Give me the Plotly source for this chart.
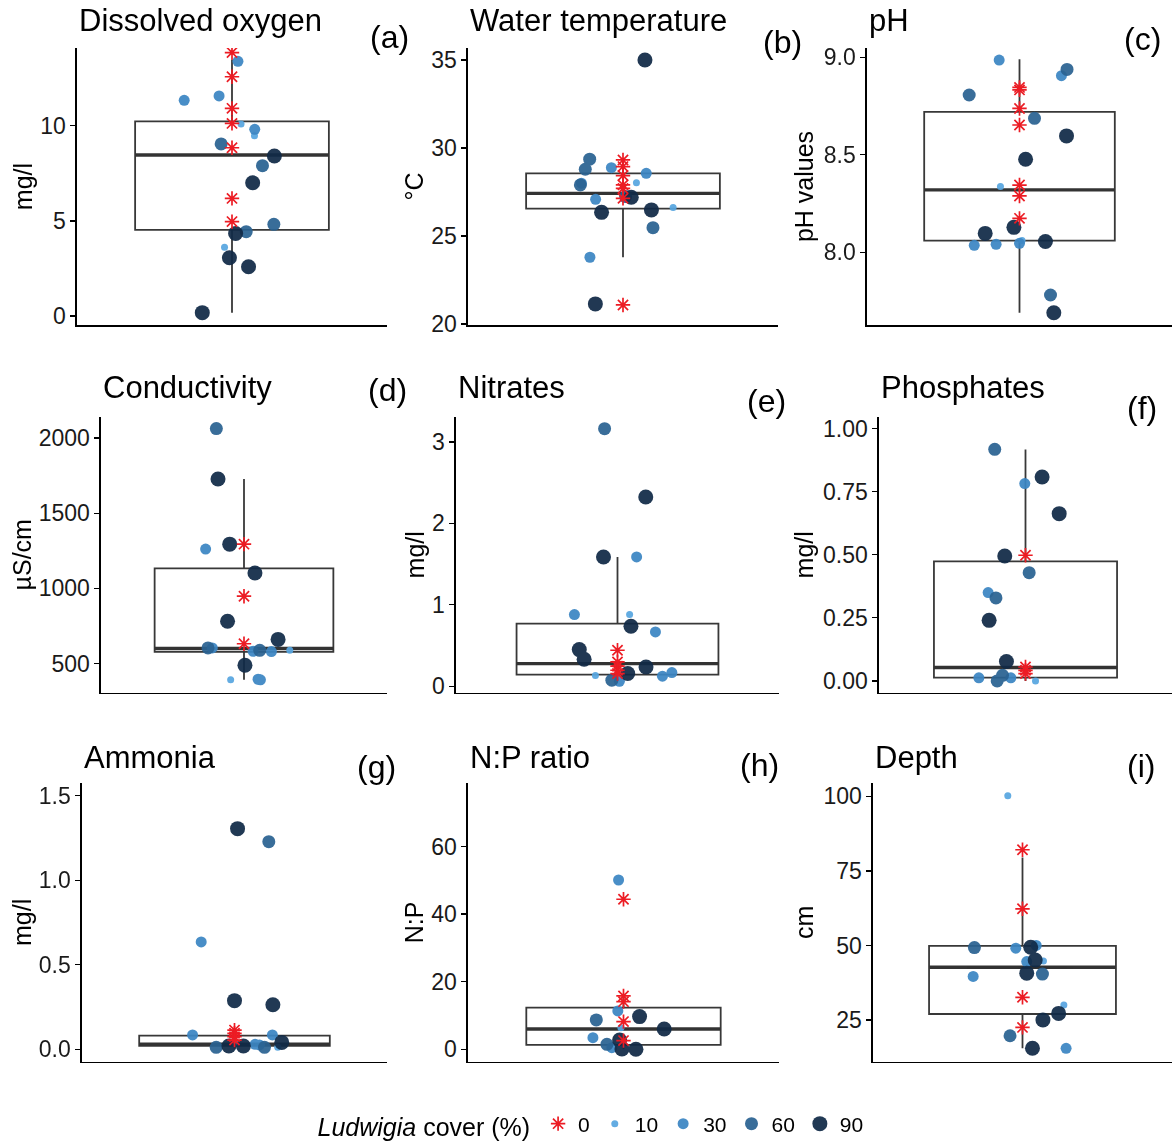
import plotly.graph_objects as go

# ---------------- data ----------------
PANEL_TITLES = ["Dissolved oxygen", "Water temperature", "pH", "Conductivity", "Nitrates",
                "Phosphates", "Ammonia", "N:P ratio", "Depth"]
PANEL_TAGS = ["(a)", "(b)", "(c)", "(d)", "(e)", "(f)", "(g)", "(h)", "(i)"]
Y_TITLES = ["mg/l", "°C", "pH values", "µS/cm", "mg/l", "mg/l", "mg/l", "N:P", "cm"]
COVER_LEVELS = [0, 10, 30, 60, 90]

# box statistics: q1, median, q3, lower whisker, upper whisker
do_box = [4.53, 8.46, 10.23, 0.17, 13.47]
temp_box = [26.55, 27.42, 28.56, 23.79, 29.3]
ph_box = [8.06, 8.32, 8.72, 7.69, 8.99]
cond_box = [578, 600, 1133, 392, 1727]
nitr_box = [0.143, 0.278, 0.77, 0.061, 1.588]
phos_box = [0.013, 0.053, 0.474, 0.0, 0.917]
amm_box = [0.02, 0.03, 0.081, 0.005, 0.1]
np_box = [1.28, 6.02, 12.34, 0.0, 15.8]
depth_box = [27.0, 42.7, 49.85, 15.5, 79.5]

# observations: value, Ludwigia cover (%), horizontal jitter
do_value = [13.84, 12.57, 10.91, 10.12, 8.84, 6.18, 4.96,
            13.38, 11.33, 11.56, 10.09, 9.81, 9.47, 9.04, 8.41, 7.90, 7.00, 4.82, 4.34, 4.43, 3.61, 3.06, 2.59, 0.18]
do_cover = [0, 0, 0, 0, 0, 0, 0,
            30, 30, 30, 10, 30, 10, 60, 90, 60, 90, 60, 90, 60, 10, 90, 90, 90]
do_jitter = [0, 0, 0, 0, 0, 0, 0,
             0.023, -0.185, -0.05, 0.035, 0.088, 0.087, -0.042, 0.164, 0.118, 0.080, 0.162, 0.014, 0.055, -0.029, -0.010, 0.064, -0.115]

temp_value = [29.32, 28.94, 28.43, 27.90, 27.70, 27.14, 21.08,
              35.0, 29.36, 28.79, 28.88, 28.56, 28.03, 28.0, 27.9, 27.24, 27.2, 27.08, 26.34, 26.48, 26.61, 25.47, 23.79, 21.14]
temp_cover = [0, 0, 0, 0, 0, 0, 0,
              90, 60, 60, 30, 30, 10, 30, 60, 60, 90, 30, 90, 90, 10, 60, 30, 90]
temp_jitter = [0, 0, 0, 0, 0, 0, 0,
               0.085, -0.129, -0.146, -0.045, 0.090, 0.052, -0.161, -0.165, 0.010, 0.032, -0.106, -0.083, 0.110, 0.194, 0.116, -0.128, -0.107]

ph_value = [8.846, 8.833, 8.738, 8.653, 8.345, 8.289, 8.174,
            8.986, 8.938, 8.906, 8.807, 8.687, 8.597, 8.477, 8.337, 8.097, 8.128, 8.036, 8.041, 8.046, 8.060, 8.055, 7.781, 7.690]
ph_cover = [0, 0, 0, 0, 0, 0, 0,
            30, 60, 30, 60, 60, 90, 90, 10, 90, 90, 30, 30, 30, 10, 90, 60, 90]
ph_jitter = [0, 0, 0, 0, 0, 0, 0,
             -0.080, 0.187, 0.165, -0.198, 0.059, 0.185, 0.024, -0.075, -0.135, -0.022, -0.178, -0.092, 0.000, 0.010, 0.102, 0.122, 0.135]

cond_value = [1294, 948, 632,
              2062, 1727, 1261, 1294, 1102, 782, 661, 604, 604, 582, 588, 580, 588, 489, 392, 396, 392]
cond_cover = [0, 0, 0,
              60, 90, 30, 90, 90, 90, 90, 60, 30, 30, 60, 30, 10, 90, 10, 30, 30]
cond_jitter = [0, 0, 0,
               -0.116, -0.109, -0.161, -0.060, 0.046, -0.069, 0.143, -0.151, -0.133, 0.038, 0.066, 0.115, 0.192, 0.004, -0.056, 0.059, 0.069]

nitr_value = [0.442, 0.299, 0.246, 0.196, 0.156,
              3.164, 2.325, 1.588, 1.588, 0.88, 0.88, 0.737, 0.667, 0.45, 0.332, 0.237, 0.156, 0.131, 0.123, 0.168, 0.074, 0.061]
nitr_cover = [0, 0, 0, 0, 0,
              60, 90, 90, 30, 30, 10, 90, 30, 90, 90, 90, 90, 10, 30, 30, 60, 30]
nitr_jitter = [0, 0, 0, 0, 0,
               -0.048, 0.105, -0.052, 0.071, -0.160, 0.045, 0.050, 0.141, -0.142, -0.124, 0.106, 0.038, -0.082, 0.167, 0.202, -0.021, 0.007]

phos_value = [0.498, 0.055, 0.042, 0.029,
              0.918, 0.808, 0.782, 0.663, 0.495, 0.429, 0.350, 0.329, 0.240, 0.077, 0.022, 0.012, 0.000, 0.012, 0.000]
phos_cover = [0, 0, 0, 0,
              60, 90, 30, 90, 90, 60, 30, 60, 90, 90, 60, 30, 60, 30, 10]
phos_jitter = [0, 0, 0, 0,
               -0.126, 0.068, -0.003, 0.138, -0.085, 0.015, -0.153, -0.121, -0.149, -0.078, -0.094, -0.191, -0.116, -0.060, 0.041]

amm_value = [0.114, 0.095, 0.075, 0.055,
             1.305, 1.228, 0.635, 0.288, 0.264, 0.085, 0.085, 0.012, 0.020, 0.020, 0.030, 0.026, 0.012, 0.012, 0.041, 0.036]
amm_cover = [0, 0, 0, 0,
             90, 60, 30, 90, 90, 30, 30, 60, 90, 90, 30, 30, 60, 10, 90, 10]
amm_jitter = [0, 0, 0, 0,
              0.012, 0.135, -0.131, 0.000, 0.151, -0.165, 0.149, -0.072, -0.022, 0.035, 0.081, 0.098, 0.118, 0.170, 0.186, 0.003]

np_value = [44.4, 15.8, 14.1, 8.19, 2.57,
            50.1, 11.35, 6.41, 8.68, 9.67, 6.02, 3.45, 1.48, 0.49, 2.76, 0.10, 0.00]
np_cover = [0, 0, 0, 0, 0,
            30, 30, 10, 60, 90, 90, 30, 60, 30, 90, 90, 90]
np_jitter = [0, 0, 0, 0, 0,
             -0.019, -0.022, -0.010, -0.105, 0.062, 0.157, -0.118, -0.064, -0.045, -0.015, -0.006, 0.048]

depth_value = [82.1, 62.3, 32.6, 22.5,
               100.2, 49.3, 49.1, 49.4, 50.0, 44.6, 44.8, 45.1, 40.7, 40.4, 39.6, 30.0, 27.2, 25.0, 19.7, 15.5, 15.5]
depth_cover = [0, 0, 0, 0,
               10, 60, 30, 90, 30, 30, 10, 90, 90, 60, 30, 10, 90, 90, 60, 90, 30]
depth_jitter = [0, 0, 0, 0,
                -0.059, -0.193, -0.027, 0.033, 0.055, 0.017, 0.084, 0.051, 0.017, 0.080, -0.198, 0.166, 0.145, 0.082, -0.050, 0.040, 0.175]

Y_TICKS = [[0, 5, 10], [20, 25, 30, 35], [8.0, 8.5, 9.0], [500, 1000, 1500, 2000], [0, 1, 2, 3],
           [0, 0.25, 0.5, 0.75, 1.0], [0, 0.5, 1.0, 1.5], [0, 20, 40, 60], [25, 50, 75, 100]]
Y_TICKTEXT = [["0", "5", "10"], ["20", "25", "30", "35"], ["8.0", "8.5", "9.0"],
              ["500", "1000", "1500", "2000"], ["0", "1", "2", "3"],
              ["0.00", "0.25", "0.50", "0.75", "1.00"], ["0.0", "0.5", "1.0", "1.5"],
              ["0", "20", "40", "60"], ["25", "50", "75", "100"]]

panels = [
    (do_box, do_value, do_cover, do_jitter),
    (temp_box, temp_value, temp_cover, temp_jitter),
    (ph_box, ph_value, ph_cover, ph_jitter),
    (cond_box, cond_value, cond_cover, cond_jitter),
    (nitr_box, nitr_value, nitr_cover, nitr_jitter),
    (phos_box, phos_value, phos_cover, phos_jitter),
    (amm_box, amm_value, amm_cover, amm_jitter),
    (np_box, np_value, np_cover, np_jitter),
    (depth_box, depth_value, depth_cover, depth_jitter),
]

# ---------------- layout / style ----------------
W, H = 1173, 1142
FONT = "Liberation Sans, Arial, sans-serif"


def px_x(p):
    return p / W


def px_y(p):
    return 1 - p / H


# panel pixel geometry (left, right, top, bottom)
PANEL_PX = [(77, 387, 48, 325), (468, 778, 48, 325), (867, 1172, 48, 325),
            (101, 387, 417, 692.5), (456, 779, 417, 692.5), (879, 1172, 417, 692.5),
            (82, 387, 783, 1061.7), (468, 779, 783, 1061.7), (873, 1172, 783, 1061.7)]
Y_RANGES = [(-0.47, 14.08), (19.94, 35.68), (7.627, 9.048), (308, 2139), (-0.077, 3.307),
            (-0.046, 1.046), (-0.073, 1.575), (-3.67, 78.8), (11.0, 104.5)]
TITLE_Y = [20, 20, 20, 388, 388, 388, 757, 757, 757]
TITLE_STANDOFF = [0, 0, 3, 0, 0, 2, 0, 0, 2]
TAG_POS = [(411, 37), (804, 42), (1163, 39), (409, 390), (788, 401), (1159, 408),
           (398, 767), (781, 765), (1157, 766)]

STYLE = {
    0: dict(color="#EC1C24", size=12, symbol="asterisk"),
    10: dict(color="#58A6E0", size=7, symbol="circle"),
    30: dict(color="#3C86C3", size=11, symbol="circle"),
    60: dict(color="#2A6292", size=13, symbol="circle"),
    90: dict(color="#112A47", size=15, symbol="circle"),
}
DRAW_ORDER = [10, 30, 60, 90, 0]
BOX_COL = "#383838"
BOX_W = 0.75

fig = go.Figure()
layout = dict(width=W, height=H, margin=dict(l=0, r=0, t=0, b=0, autoexpand=False), autosize=False,
              paper_bgcolor="white", plot_bgcolor="white",
              font=dict(family=FONT, color="#111111"))
annotations = []

for i, (box, vals, covs, jit) in enumerate(panels):
    n = "" if i == 0 else str(i + 1)
    xa, ya = "x" + n, "y" + n
    q1, med, q3, lo, hi = box
    fig.add_trace(go.Box(x=[1], q1=[q1], median=[med], q3=[q3], lowerfence=[lo], upperfence=[hi],
                         width=BOX_W, whiskerwidth=0, boxpoints=False,
                         line=dict(color=BOX_COL, width=1.8), fillcolor="rgba(255,255,255,0)",
                         showlegend=False, hoverinfo="skip", xaxis=xa, yaxis=ya))
    fig.add_trace(go.Scatter(x=[1 - BOX_W / 2, 1 + BOX_W / 2], y=[med, med], mode="lines",
                             line=dict(color="#333333", width=3.4), showlegend=False,
                             hoverinfo="skip", xaxis=xa, yaxis=ya))
    for c in DRAW_ORDER:
        xs = [1 + j for v, cv, j in zip(vals, covs, jit) if cv == c]
        ys = [v for v, cv, j in zip(vals, covs, jit) if cv == c]
        st = STYLE[c]
        if c == 0:
            marker = dict(symbol=st["symbol"], size=st["size"], color=st["color"],
                          line=dict(color=st["color"], width=1.7))
            opac = 1.0
        else:
            marker = dict(symbol=st["symbol"], size=st["size"], color=st["color"], line=dict(width=0))
            opac = 0.93
        fig.add_trace(go.Scatter(x=xs, y=ys, mode="markers", marker=marker, opacity=opac,
                                 name=str(c), legendgroup=str(c), showlegend=(i == 0),
                                 legendrank=COVER_LEVELS.index(c) + 1,
                                 xaxis=xa, yaxis=ya))
    l, r, t, b = PANEL_PX[i]
    layout["xaxis" + n] = dict(domain=[px_x(l), px_x(r)], range=[0.4, 1.6], showgrid=False, zeroline=False,
                               showline=True, linecolor="black", linewidth=1.6,
                               showticklabels=False, ticks="", anchor=ya, fixedrange=True)
    layout["yaxis" + n] = dict(domain=[px_y(b), px_y(t)], range=list(Y_RANGES[i]), showgrid=False,
                               zeroline=False, showline=True, linecolor="black", linewidth=1.6,
                               ticks="outside", ticklen=5, tickwidth=1.3, tickcolor="black",
                               tickvals=Y_TICKS[i], ticktext=Y_TICKTEXT[i],
                               tickfont=dict(size=23, color="#1a1a1a", family=FONT),
                               title=dict(text=Y_TITLES[i], font=dict(size=25, color="black", family=FONT),
                                          standoff=TITLE_STANDOFF[i]),
                               anchor=xa, fixedrange=True, automargin=False)
    annotations.append(dict(text=PANEL_TITLES[i], xref="paper", yref="paper", x=px_x(l),
                            y=px_y(TITLE_Y[i]), xanchor="left", yanchor="middle", showarrow=False,
                            font=dict(size=31, color="black", family=FONT)))
    tx, ty = TAG_POS[i]
    annotations.append(dict(text=PANEL_TAGS[i], xref="paper", yref="paper", x=px_x(tx),
                            y=px_y(ty), xanchor="right", yanchor="middle", showarrow=False,
                            font=dict(size=32, color="black", family=FONT)))

layout["annotations"] = annotations
layout["legend"] = dict(orientation="h", x=px_x(592), xanchor="center", y=px_y(1125), yanchor="middle",
                        title=dict(text="<i>Ludwigia</i> cover (%)", side="left",
                                   font=dict(size=25, color="black", family=FONT)),
                        font=dict(size=21, color="black", family=FONT),
                        itemsizing="trace", itemwidth=30, bgcolor="rgba(0,0,0,0)",
                        traceorder="normal", tracegroupgap=0)
layout["hovermode"] = False
fig.update_layout(**layout)

fig.write_html("out.html", config={"displayModeBar": False, "staticPlot": True},
               post_script="document.body.style.margin='0px';")
